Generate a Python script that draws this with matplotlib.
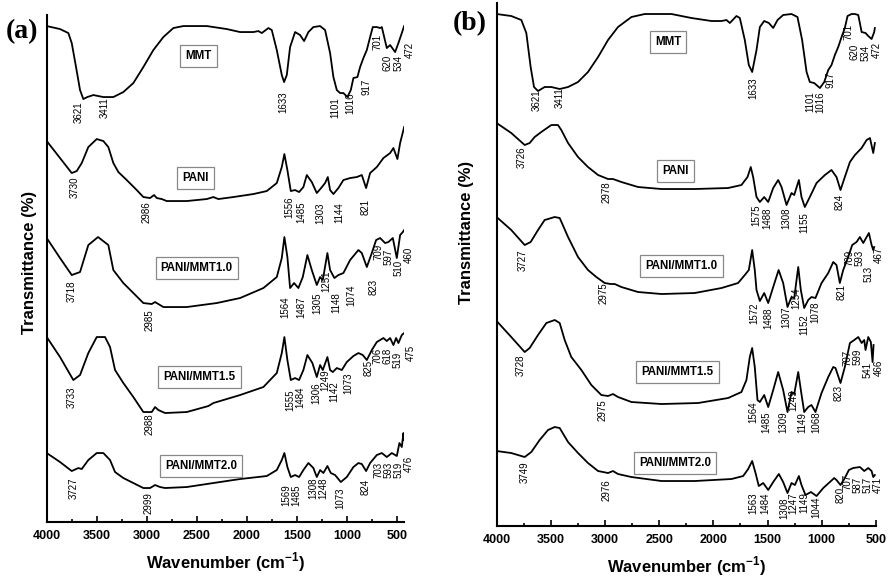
import matplotlib.pyplot as plt
from matplotlib.ticker import MultipleLocator

plt.rcParams['font.family'] = ['Liberation Sans', 'DejaVu Sans']
plt.rcParams['mathtext.fontset'] = 'custom'
plt.rcParams['mathtext.rm'] = 'Liberation Sans:bold'
plt.rcParams['mathtext.bf'] = 'Liberation Sans:bold'

# ---------- panel (a): wavenumber (cm-1) / stacked transmittance (a.u.) ----------
a_mmt_wn = [4000, 3867, 3784, 3750, 3707, 3667, 3634, 3594, 3534, 3434, 3334, 3234, 3134, 3034, 2934,
            2834, 2734, 2634, 2400, 2200, 2067, 1934, 1884, 1850, 1784, 1750, 1700, 1650, 1627, 1600,
            1567, 1517, 1467, 1427, 1384, 1334, 1267, 1217, 1167, 1134, 1100, 1067, 1034, 994, 960,
            934, 894, 867, 834, 800, 767, 740, 700, 667, 650, 600, 567, 517, 484, 450, 427]
a_mmt_t = [496, 493, 489, 479, 455, 432, 423, 425, 427, 425, 425, 430, 439, 455, 472,
           485, 494, 496, 496, 493, 490, 490, 491, 489, 494, 492, 472, 447, 440, 447,
           475, 490, 487, 481, 490, 495, 496, 492, 469, 445, 432, 429, 429, 425, 432,
           444, 445, 455, 464, 472, 485, 495, 495, 494, 495, 474, 477, 470, 479, 489, 496]

a_pani_wn = [4000, 3867, 3750, 3700, 3650, 3584, 3500, 3434, 3384, 3334, 3284, 3200, 3100, 3034, 2967,
             2927, 2900, 2850, 2800, 2600, 2400, 2334, 2284, 2134, 1934, 1800, 1700, 1650, 1624, 1594,
             1560, 1517, 1477, 1434, 1400, 1350, 1300, 1257, 1217, 1190, 1167, 1134, 1084, 1034, 967,
             900, 850, 807, 767, 700, 634, 567, 534, 494, 467, 434, 427]
a_pani_t = [381, 364, 349, 351, 359, 375, 383, 381, 375, 359, 350, 342, 332, 325, 324,
            327, 324, 323, 321, 321, 323, 325, 323, 325, 328, 331, 339, 355, 368, 352,
            331, 332, 330, 335, 347, 340, 329, 334, 339, 345, 332, 328, 334, 342, 344,
            345, 347, 334, 349, 355, 364, 369, 374, 363, 379, 392, 395]

a_m10_wn = [4000, 3867, 3750, 3667, 3584, 3487, 3384, 3334, 3234, 3134, 3034, 2950, 2917, 2884, 2834,
            2600, 2300, 2067, 1834, 1700, 1650, 1624, 1594, 1567, 1527, 1484, 1440, 1394, 1350, 1300,
            1267, 1240, 1194, 1167, 1124, 1084, 1034, 967, 884, 850, 800, 750, 707, 667, 617,
            584, 540, 500, 467, 440, 427]
a_m10_t = [284, 264, 247, 250, 277, 285, 277, 252, 239, 229, 219, 218, 220, 218, 215,
           215, 219, 224, 234, 245, 264, 285, 265, 234, 239, 234, 245, 267, 252, 237,
           245, 242, 269, 252, 244, 247, 249, 262, 272, 269, 255, 269, 282, 284, 279,
           280, 284, 264, 287, 290, 292]

a_m15_wn = [4000, 3867, 3734, 3667, 3584, 3500, 3417, 3367, 3317, 3234, 3134, 3034, 2950, 2917, 2884,
            2817, 2600, 2384, 2334, 2067, 1834, 1700, 1650, 1624, 1594, 1560, 1517, 1477, 1434, 1394,
            1344, 1300, 1267, 1240, 1194, 1167, 1140, 1100, 1050, 1000, 934, 884, 840, 800, 750,
            700, 634, 600, 567, 534, 507, 484, 450, 427]
a_m15_t = [185, 165, 142, 147, 169, 185, 185, 175, 152, 139, 125, 110, 110, 115, 112,
           109, 110, 116, 119, 127, 135, 149, 169, 185, 162, 142, 144, 142, 152, 167,
           159, 145, 157, 152, 165, 152, 150, 154, 152, 160, 166, 169, 167, 162, 172,
           180, 184, 181, 184, 177, 184, 179, 187, 189]

a_m20_wn = [4000, 3867, 3750, 3684, 3650, 3584, 3500, 3434, 3367, 3317, 3234, 3134, 3034, 2967, 2917,
            2867, 2817, 2600, 2334, 2067, 1800, 1700, 1650, 1624, 1594, 1560, 1517, 1477, 1434, 1384,
            1334, 1300, 1267, 1234, 1194, 1160, 1117, 1060, 1000, 934, 884, 850, 807, 767, 700,
            650, 600, 550, 500, 474, 450, 434, 427]
a_m20_t = [69, 60, 51, 54, 53, 62, 69, 69, 62, 50, 44, 39, 34, 34, 37,
           35, 34, 35, 39, 43, 46, 52, 62, 69, 55, 45, 47, 45, 52, 59,
           54, 45, 52, 49, 56, 49, 47, 40, 45, 55, 59, 58, 51, 59, 67,
           69, 65, 69, 66, 79, 75, 89, 82]

# peak labels (text, x, y) for panel (a)
a_mmt_lbl = ['3621', '3411', '1633', '1101', '1016', '917', '701', '620', '534', '472']
a_mmt_lx = [3684, 3417, 1634, 1117, 967, 807, 693, 593, 484, 367]
a_mmt_ly = [410, 414, 420, 414, 419, 435, 480, 459, 459, 472]
a_pani_lbl = ['3730', '2986', '1556', '1485', '1303', '1144', '821']
a_pani_lx = [3717, 3000, 1574, 1457, 1267, 1074, 807]
a_pani_ly = [335, 310, 315, 310, 309, 309, 315]
a_m10_lbl = ['3718', '2985', '1564', '1487', '1305', '1251', '1148', '1074', '823', '709', '597', '510', '460']
a_m10_lx = [3750, 2967, 1610, 1457, 1290, 1205, 1100, 950, 734, 680, 584, 484, 384]
a_m10_ly = [231, 202, 215, 215, 219, 241, 219, 227, 235, 270, 265, 254, 267]
a_m15_lbl = ['3733', '2988', '1555', '1484', '1306', '1249', '1142', '1073', '825', '706', '618', '519', '475']
a_m15_lx = [3750, 2967, 1567, 1467, 1305, 1212, 1124, 984, 784, 690, 594, 490, 360]
a_m15_ly = [125, 98, 122, 125, 129, 142, 130, 139, 154, 166, 166, 162, 169]
a_m20_lbl = ['3727', '2999', '1569', '1485', '1308', '1248', '1073', '824', '703', '593', '519', '476']
a_m20_lx = [3727, 2977, 1607, 1500, 1334, 1230, 1060, 810, 684, 584, 484, 384]
a_m20_ly = [34, 19, 27, 27, 34, 34, 24, 35, 52, 52, 52, 58]

# sample names and where their boxes sit in panel (a)
names = ['MMT', 'PANI', 'PANI/MMT1.0', 'PANI/MMT1.5', 'PANI/MMT2.0']
a_box_x = [2484, 2510, 2500, 2474, 2460]
a_box_y = [466, 344, 254, 145, 56]

# ---------- panel (b) ----------
b_mmt_wn = [4000, 3865, 3772, 3726, 3686, 3655, 3618, 3557, 3495, 3418, 3341, 3249, 3157, 3064, 2972,
            2880, 2756, 2633, 2387, 2202, 2018, 1925, 1879, 1848, 1787, 1756, 1710, 1673, 1642, 1602,
            1571, 1531, 1488, 1448, 1408, 1356, 1279, 1224, 1181, 1140, 1110, 1070, 1017, 977, 940,
            910, 879, 848, 817, 787, 762, 725, 694, 663, 632, 596, 571, 540, 516, 510]
b_mmt_t = [512, 510, 506, 493, 459, 439, 435, 439, 439, 437, 439, 444, 454, 469, 486,
           499, 509, 512, 512, 508, 505, 505, 506, 503, 510, 508, 486, 461, 454, 476,
           499, 505, 503, 498, 506, 511, 512, 509, 486, 454, 444, 443, 438, 444, 456,
           461, 471, 479, 489, 498, 510, 512, 512, 511, 494, 493, 490, 487, 494, 498]

b_pani_wn = [4000, 3865, 3741, 3695, 3649, 3588, 3495, 3434, 3403, 3341, 3249, 3157, 3064, 2972, 2926,
             2849, 2695, 2479, 2172, 1864, 1741, 1685, 1655, 1633, 1602, 1571, 1531, 1494, 1448, 1402,
             1371, 1325, 1279, 1254, 1211, 1187, 1156, 1110, 1048, 971, 910, 864, 827, 787, 740,
             694, 632, 586, 555, 525, 510]
b_pani_t = [403, 393, 381, 383, 389, 394, 401, 401, 396, 383, 369, 359, 351, 347, 347,
            344, 339, 337, 337, 338, 341, 349, 359, 349, 329, 324, 329, 324, 338, 346,
            339, 321, 333, 331, 346, 329, 319, 329, 343, 351, 356, 349, 336, 349, 364,
            371, 378, 386, 388, 373, 383]

b_m10_wn = [4000, 3865, 3741, 3686, 3618, 3557, 3464, 3418, 3341, 3249, 3157, 3080, 3003, 2947, 2910,
            2849, 2695, 2479, 2172, 1925, 1772, 1710, 1673, 1642, 1618, 1602, 1571, 1531, 1494, 1448,
            1398, 1356, 1316, 1279, 1254, 1217, 1193, 1162, 1125, 1095, 1058, 1002, 940, 894, 864,
            833, 802, 756, 719, 679, 648, 617, 586, 565, 540, 525, 516]
b_m10_t = [309, 296, 281, 284, 296, 306, 309, 308, 289, 269, 256, 249, 243, 242, 242,
           239, 234, 232, 233, 238, 243, 251, 256, 276, 256, 236, 225, 233, 223, 239,
           256, 243, 219, 229, 228, 259, 236, 218, 226, 229, 228, 243, 253, 264, 261,
           243, 256, 269, 281, 284, 289, 283, 289, 293, 281, 276, 279]

b_m15_wn = [4000, 3865, 3741, 3695, 3618, 3541, 3464, 3418, 3372, 3311, 3218, 3126, 3034, 2972, 2926,
            2880, 2756, 2479, 2141, 1864, 1741, 1695, 1664, 1642, 1618, 1593, 1571, 1531, 1494, 1448,
            1402, 1356, 1316, 1279, 1254, 1217, 1193, 1162, 1125, 1095, 1058, 1002, 940, 894, 873,
            827, 787, 740, 700, 663, 632, 608, 596, 571, 547, 531, 522]
b_m15_t = [205, 189, 174, 178, 191, 203, 206, 203, 186, 169, 156, 141, 131, 130, 132,
           129, 124, 122, 123, 128, 134, 146, 169, 178, 159, 126, 124, 131, 119, 136,
           154, 136, 114, 134, 132, 154, 136, 114, 119, 121, 114, 133, 149, 159, 158,
           143, 159, 183, 186, 189, 183, 186, 176, 189, 184, 164, 181]

b_m20_wn = [4000, 3865, 3741, 3680, 3603, 3526, 3464, 3418, 3341, 3249, 3157, 3064, 2972, 2926, 2880,
            2756, 2479, 2172, 1833, 1725, 1679, 1642, 1611, 1581, 1540, 1494, 1448, 1396, 1356, 1316,
            1279, 1248, 1211, 1187, 1150, 1100, 1048, 986, 925, 885, 864, 827, 787, 750, 710,
            648, 608, 571, 540, 525, 510]
b_m20_t = [75, 73, 69, 74, 86, 96, 99, 98, 84, 73, 63, 55, 53, 55, 52,
           49, 45, 45, 47, 50, 57, 65, 53, 40, 43, 36, 44, 52, 44, 33,
           43, 41, 50, 41, 31, 34, 30, 38, 44, 48, 46, 41, 48, 56, 58,
           59, 55, 58, 55, 49, 51]

b_mmt_lbl = ['3621', '3411', '1633', '1101', '1016', '917', '701', '620', '534', '472']
b_mmt_lx = [3634, 3418, 1633, 1110, 1017, 916, 750, 694, 592, 491]
b_mmt_ly = [426, 428, 438, 424, 424, 446, 494, 474, 473, 476]
b_pani_lbl = ['3726', '2978', '1575', '1488', '1308', '1155', '824']
b_pani_lx = [3772, 2987, 1602, 1501, 1325, 1162, 833]
b_pani_ly = [369, 334, 311, 308, 308, 303, 324]
b_m10_lbl = ['3727', '2975', '1572', '1488', '1307', '1254', '1152', '1078', '821', '709', '593', '513', '467']
b_m10_lx = [3757, 3009, 1618, 1494, 1330, 1236, 1162, 1064, 817, 740, 648, 565, 473]
b_m10_ly = [266, 233, 213, 208, 209, 228, 201, 214, 234, 268, 268, 252, 271]
b_m15_lbl = ['3728', '2975', '1564', '1485', '1309', '1249', '1149', '1068', '823', '707', '599', '541', '466']
b_m15_lx = [3778, 3027, 1633, 1510, 1356, 1264, 1180, 1048, 842, 758, 667, 574, 473]
b_m15_ly = [161, 116, 114, 104, 104, 126, 103, 104, 133, 168, 169, 156, 158]
b_m20_lbl = ['3749', '2976', '1563', '1484', '1308', '1247', '1149', '1044', '820', '707', '587', '517', '471']
b_m20_lx = [3741, 2987, 1633, 1525, 1341, 1264, 1162, 1048, 824, 759, 667, 574, 482]
b_m20_ly = [54, 36, 23, 23, 18, 23, 23, 19, 31, 44, 41, 41, 41]

b_box_x = [2418, 2350, 2295, 2332, 2356]
b_box_y = [484, 355, 260, 154, 63]


def draw_panel(ax, spectra, labels, box_x, box_y, xlim, ylim):
    for wn, t in spectra:
        ax.plot(wn, t, color='black', lw=1.3, solid_joinstyle='round')
    for lbl, lx, ly in labels:
        for s, x, y in zip(lbl, lx, ly):
            ax.text(x, y, s, rotation=90, ha='center', va='center', fontsize=7)
    for name, x, y in zip(names, box_x, box_y):
        ax.text(x, y, name, ha='center', va='center', fontsize=8.3, fontweight='bold',
                bbox=dict(boxstyle='square,pad=0.45', fc='white', ec='#888888', lw=0.9))

    ax.set_xlim(*xlim)
    ax.set_ylim(*ylim)
    for side in ['top', 'right']:
        ax.spines[side].set_visible(False)
    for side in ['left', 'bottom']:
        ax.spines[side].set_linewidth(1.5)
    ax.set_yticks([])
    ax.xaxis.set_major_locator(MultipleLocator(500))
    ax.xaxis.set_minor_locator(MultipleLocator(250))
    ax.tick_params(axis='x', which='major', direction='in', length=4, width=1.2, pad=6)
    ax.tick_params(axis='x', which='minor', direction='in', length=2, width=1.2)
    for lab in ax.get_xticklabels():
        lab.set_fontweight('bold')
        lab.set_fontsize(9)
    ax.set_xlabel('Wavenumber (cm$^{-1}$)', fontsize=12, fontweight='bold', labelpad=6)
    ax.set_ylabel('Transmittance (%)', fontsize=12, fontweight='bold', va='center')


fig = plt.figure(figsize=(8.9, 5.79), dpi=100)

ax_a = fig.add_axes([0.0525, 0.0984, 0.401, 0.8756])
draw_panel(ax_a,
           [(a_mmt_wn, a_mmt_t), (a_pani_wn, a_pani_t), (a_m10_wn, a_m10_t),
            (a_m15_wn, a_m15_t), (a_m20_wn, a_m20_t)],
           [(a_mmt_lbl, a_mmt_lx, a_mmt_ly), (a_pani_lbl, a_pani_lx, a_pani_ly),
            (a_m10_lbl, a_m10_lx, a_m10_ly), (a_m15_lbl, a_m15_lx, a_m15_ly),
            (a_m20_lbl, a_m20_lx, a_m20_ly)],
           a_box_x, a_box_y, (4000, 432), (0, 507))
ax_a.yaxis.set_label_coords(-0.047, 0.513)

ax_b = fig.add_axes([0.558, 0.0915, 0.4262, 0.9033])
draw_panel(ax_b,
           [(b_mmt_wn, b_mmt_t), (b_pani_wn, b_pani_t), (b_m10_wn, b_m10_t),
            (b_m15_wn, b_m15_t), (b_m20_wn, b_m20_t)],
           [(b_mmt_lbl, b_mmt_lx, b_mmt_ly), (b_pani_lbl, b_pani_lx, b_pani_ly),
            (b_m10_lbl, b_m10_lx, b_m10_ly), (b_m15_lbl, b_m15_lx, b_m15_ly),
            (b_m20_lbl, b_m20_lx, b_m20_ly)],
           b_box_x, b_box_y, (4000, 500), (0, 523))
ax_b.yaxis.set_label_coords(-0.079, 0.562)

fig.text(22 / 890, 1 - 32 / 579, '(a)', family='Liberation Serif', fontweight='bold',
         fontsize=20, ha='center', va='center')
fig.text(470 / 890, 1 - 24 / 579, '(b)', family='Liberation Serif', fontweight='bold',
         fontsize=20, ha='center', va='center')

fig.savefig('out.png', dpi=100)
